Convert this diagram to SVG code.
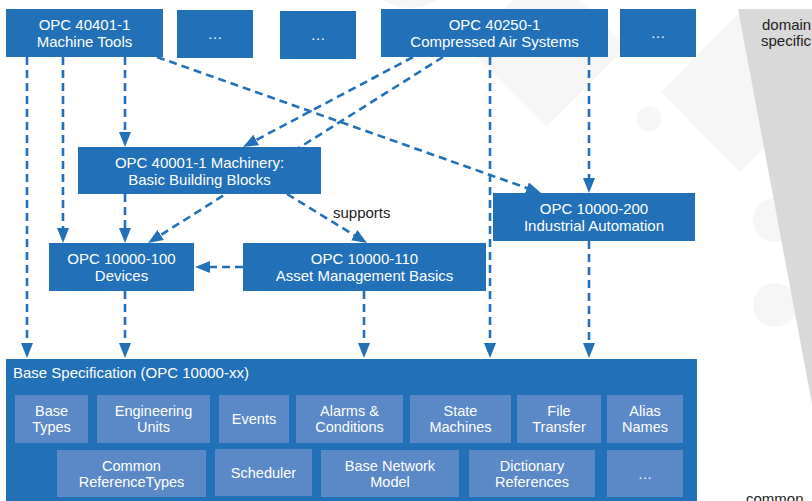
<svg xmlns="http://www.w3.org/2000/svg" width="812" height="501" viewBox="0 0 812 501">
<style>
  .box { fill: #2270b8; }
  .sub { fill: #5b88c6; }
  .t { font-family: "Liberation Sans", Arial, sans-serif; font-size: 15px; fill: #ffffff; text-anchor: middle; }
  .ts { font-family: "Liberation Sans", Arial, sans-serif; font-size: 14.5px; fill: #ffffff; text-anchor: middle; }
  .lbl { font-family: "Liberation Sans", Arial, sans-serif; font-size: 15px; fill: #222222; }
  .wm { fill: #f6f6f6; }
  .c { fill: none; stroke: #2270b8; stroke-width: 2.6; stroke-dasharray: 8 5; marker-end: url(#ah); }
</style>
<defs>
  <marker id="ah" markerUnits="userSpaceOnUse" markerWidth="16" markerHeight="13" refX="5" refY="6" orient="auto">
    <path d="M0,0 L15,6 L0,12 Z" fill="#2270b8"/>
  </marker>
</defs>
<rect width="812" height="501" fill="#ffffff"/>
<g id="background">
  <polygon class="wm" points="740,12 820,92 740,172 661,92"/>
  <polygon class="wm" points="546,-33 626,47 546,127 466,47"/>
  <circle class="wm" cx="410" cy="-42" r="50"/>
  <circle class="wm" cx="649" cy="119" r="12.5"/>
  <circle class="wm" cx="775" cy="220" r="22"/>
  <circle class="wm" cx="775" cy="305" r="22"/>
  <polygon points="738,9 900,9 830,500" fill="#d9d9d9"/>
  <text class="lbl" x="762" y="30">domain</text>
  <text class="lbl" x="761" y="46">specific</text>
  <text class="lbl" x="746" y="504">common</text>
</g>
<g id="connectors">
  <line class="c" x1="27" y1="57" x2="27" y2="348"/>
  <line class="c" x1="63" y1="57" x2="63" y2="233"/>
  <line class="c" x1="125" y1="57" x2="125" y2="137"/>
  <line class="c" x1="157" y1="57" x2="531.6" y2="189.7"/>
  <line class="c" x1="413" y1="57" x2="251.8" y2="142.3"/>
  <line class="c" x1="443" y1="57" x2="156.5" y2="237.7"/>
  <line class="c" x1="125" y1="194" x2="125" y2="233"/>
  <line class="c" x1="287" y1="194" x2="358.5" y2="237.8"/>
  <line class="c" x1="243" y1="267" x2="205" y2="267"/>
  <line class="c" x1="125" y1="291" x2="125" y2="348"/>
  <line class="c" x1="364" y1="291" x2="364" y2="348"/>
  <line class="c" x1="490" y1="57" x2="490" y2="348"/>
  <line class="c" x1="589" y1="57" x2="589" y2="183"/>
  <line class="c" x1="589" y1="241" x2="589" y2="348"/>
  <text class="lbl" x="333" y="218">supports</text>
</g>
<g id="machine-tools">
  <rect class="box" x="6" y="9" width="157" height="48"/>
  <text class="t" x="84.5" y="30">OPC 40401-1</text>
  <text class="t" x="84.5" y="47">Machine Tools</text>
</g>
<g id="more-1">
  <rect class="box" x="177" y="10" width="76" height="48"/>
  <text class="t" x="215" y="39">…</text>
</g>
<g id="more-2">
  <rect class="box" x="280" y="11" width="76" height="48"/>
  <text class="t" x="318" y="40">…</text>
</g>
<g id="compressed-air">
  <rect class="box" x="381" y="9" width="227" height="48"/>
  <text class="t" x="494.5" y="30">OPC 40250-1</text>
  <text class="t" x="494.5" y="47">Compressed Air Systems</text>
</g>
<g id="more-3">
  <rect class="box" x="620" y="9" width="76" height="48"/>
  <text class="t" x="658" y="38">…</text>
</g>
<g id="machinery">
  <rect class="box" x="78" y="147" width="243" height="47"/>
  <text class="t" x="199.5" y="168">OPC 40001-1 Machinery:</text>
  <text class="t" x="199.5" y="185">Basic Building Blocks</text>
</g>
<g id="industrial-automation">
  <rect class="box" x="493" y="193" width="202" height="48"/>
  <text class="t" x="594" y="214">OPC 10000-200</text>
  <text class="t" x="594" y="231">Industrial Automation</text>
</g>
<g id="devices">
  <rect class="box" x="49" y="243" width="145" height="48"/>
  <text class="t" x="121.5" y="264">OPC 10000-100</text>
  <text class="t" x="121.5" y="281">Devices</text>
</g>
<g id="asset-management">
  <rect class="box" x="243" y="243" width="243" height="48"/>
  <text class="t" x="364.5" y="264">OPC 10000-110</text>
  <text class="t" x="364.5" y="281">Asset Management Basics</text>
</g>
<g id="base-specification">
  <rect class="box" x="6" y="359" width="691" height="150"/>
  <text class="t" x="13" y="378" style="text-anchor:start">Base Specification (OPC 10000-xx)</text>
  <g id="base-types"><rect class="sub" x="15" y="395" width="73" height="48"/><text class="ts" x="51.5" y="416">Base</text><text class="ts" x="51.5" y="432">Types</text></g>
  <g id="engineering-units"><rect class="sub" x="97" y="395" width="113" height="48"/><text class="ts" x="153.5" y="416">Engineering</text><text class="ts" x="153.5" y="432">Units</text></g>
  <g id="events"><rect class="sub" x="219" y="395" width="70" height="48"/><text class="ts" x="254" y="424">Events</text></g>
  <g id="alarms"><rect class="sub" x="296" y="395" width="107" height="48"/><text class="ts" x="349.5" y="416">Alarms &amp;</text><text class="ts" x="349.5" y="432">Conditions</text></g>
  <g id="state-machines"><rect class="sub" x="410" y="395" width="101" height="48"/><text class="ts" x="460.5" y="416">State</text><text class="ts" x="460.5" y="432">Machines</text></g>
  <g id="file-transfer"><rect class="sub" x="517" y="395" width="84" height="48"/><text class="ts" x="559" y="416">File</text><text class="ts" x="559" y="432">Transfer</text></g>
  <g id="alias-names"><rect class="sub" x="607" y="395" width="76" height="48"/><text class="ts" x="645" y="416">Alias</text><text class="ts" x="645" y="432">Names</text></g>
  <g id="common-reftypes"><rect class="sub" x="57" y="450" width="149" height="47"/><text class="ts" x="131.5" y="471">Common</text><text class="ts" x="131.5" y="487">ReferenceTypes</text></g>
  <g id="scheduler"><rect class="sub" x="215" y="449" width="97" height="47"/><text class="ts" x="263.5" y="478">Scheduler</text></g>
  <g id="base-network-model"><rect class="sub" x="321" y="450" width="138" height="47"/><text class="ts" x="390" y="471">Base Network</text><text class="ts" x="390" y="487">Model</text></g>
  <g id="dictionary-references"><rect class="sub" x="469" y="450" width="126" height="47"/><text class="ts" x="532" y="471">Dictionary</text><text class="ts" x="532" y="487">References</text></g>
  <g id="more-base"><rect class="sub" x="607" y="450" width="76" height="47"/><text class="ts" x="645" y="479">…</text></g>
</g>
</svg>
